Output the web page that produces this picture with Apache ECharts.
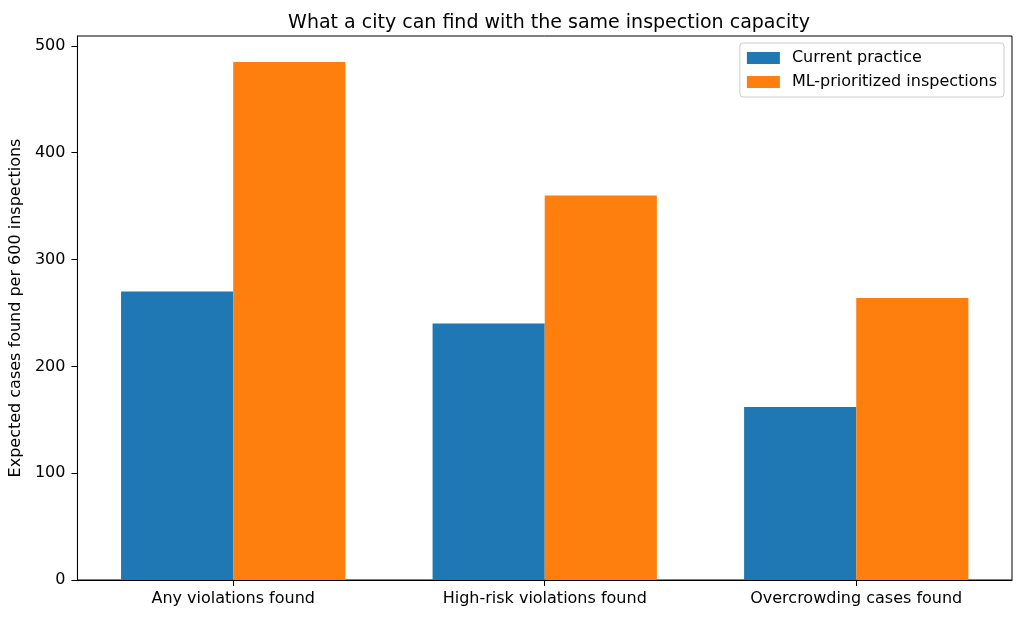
<!DOCTYPE html>
<html>
<head>
<meta charset="utf-8">
<script src="https://cdn.jsdelivr.net/npm/echarts@6/dist/echarts.min.js"></script>
<style>html,body{margin:0;padding:0;background:#fff}#c{width:1023px;height:619px}</style>
</head>
<body>
<div id="c"></div>
<script>
var categories = ["Any violations found", "High-risk violations found", "Overcrowding cases found"];
var currentPractice = [270, 240, 162];
var mlPrioritized = [485, 360, 264];
var yTicks = [0, 100, 200, 300, 400, 500];

var chart = echarts.init(document.getElementById('c'));
var font = 'DejaVu Sans';
chart.setOption({
  animation: false,
  backgroundColor: '#fff',
  textStyle: { fontFamily: font },
  title: {
    text: 'What a city can find with the same inspection capacity',
    left: 544, top: 9, textAlign: 'center',
    textStyle: { fontFamily: font, fontSize: 19, fontWeight: 'normal', color: '#000' }
  },
  legend: {
    orient: 'vertical', right: 19, top: 43,
    padding: [7, 7, 7, 7], itemGap: 8, itemWidth: 33, itemHeight: 12,
    borderColor: '#cccccc', borderWidth: 1, borderRadius: 3, backgroundColor: 'rgba(255,255,255,0.8)',
    icon: 'rect',
    textStyle: { fontFamily: font, fontSize: 16, color: '#000', lineHeight: 16, padding: [0, 0, 0, 7] },
    data: ['Current practice', 'ML-prioritized inspections']
  },
  grid: { left: 76, right: 11, top: 36, bottom: 39, show: true, borderColor: '#000', borderWidth: 1, containLabel: false },
  xAxis: {
    type: 'category', data: categories,
    axisLine: { show: true, lineStyle: { color: '#000', width: 1 } },
    axisTick: { show: true, alignWithLabel: true, length: 6, lineStyle: { color: '#000' } },
    axisLabel: { fontFamily: font, fontSize: 16, color: '#000', margin: 11 },
    splitLine: { show: false }
  },
  yAxis: {
    type: 'value', min: 0, max: 509.25, interval: 100,
    name: 'Expected cases found per 600 inspections', nameLocation: 'middle', nameGap: 47,
    nameTextStyle: { fontFamily: font, fontSize: 16, color: '#000' },
    axisLine: { show: true, lineStyle: { color: '#000', width: 1 } },
    axisTick: { show: true, length: 6, lineStyle: { color: '#000' }, customValues: yTicks },
    axisLabel: { fontFamily: font, fontSize: 16, color: '#000', margin: 12, customValues: yTicks },
    splitLine: { show: false }
  },
  series: [
    { name: 'Current practice', type: 'bar', data: currentPractice, barWidth: '36%', barGap: '0%', itemStyle: { color: '#1f77b4' } },
    { name: 'ML-prioritized inspections', type: 'bar', data: mlPrioritized, barWidth: '36%', barGap: '0%', itemStyle: { color: '#ff7f0e' } }
  ]
});
</script>
</body>
</html>
